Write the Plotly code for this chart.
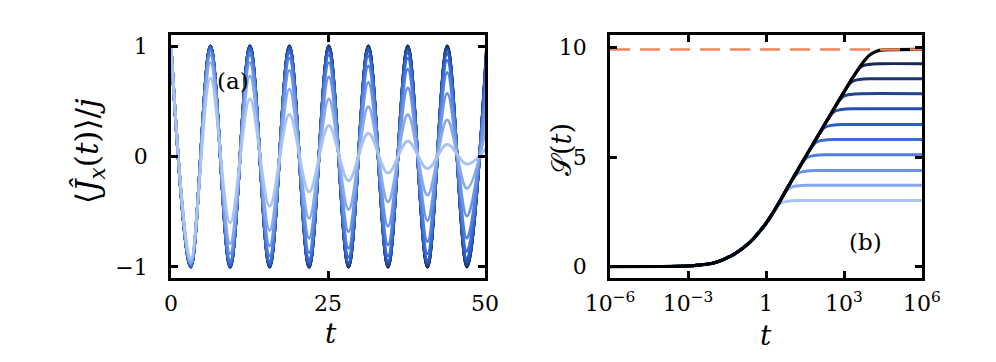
import numpy as np
import plotly.graph_objects as go

W, H = 996, 362

# ---------------- Panel (a) data: extrema of <J_x(t)>/j at t = k*pi ----------------
t_ext = [0.0, 3.14, 6.28, 9.42, 12.57, 15.71, 18.85, 21.99, 25.13, 28.27,
         31.42, 34.56, 37.70, 40.84, 43.98, 47.12, 50.27]

jx_1 = [1.0, -0.93, 0.71, -0.60, 0.52, -0.45, 0.38, -0.32, 0.28, -0.22, 0.21, -0.15, 0.14, -0.11, 0.11, -0.07, 0.08]
jx_2 = [1.0, -0.96, 0.85, -0.79, 0.73, -0.67, 0.61, -0.56, 0.52, -0.48, 0.45, -0.41, 0.38, -0.35, 0.33, -0.29, 0.28]
jx_3 = [1.0, -0.97, 0.92, -0.88, 0.85, -0.81, 0.78, -0.74, 0.72, -0.68, 0.67, -0.63, 0.62, -0.58, 0.57, -0.54, 0.53]
jx_4 = [1.0, -0.98, 0.96, -0.94, 0.92, -0.90, 0.89, -0.87, 0.85, -0.83, 0.82, -0.80, 0.79, -0.77, 0.76, -0.74, 0.73]
jx_5 = [1.0, -0.99, 0.98, -0.97, 0.96, -0.95, 0.94, -0.93, 0.92, -0.91, 0.91, -0.90, 0.89, -0.88, 0.87, -0.86, 0.85]
jx_6 = [1.0, -1.0, 0.99, -0.99, 0.98, -0.98, 0.97, -0.97, 0.96, -0.96, 0.95, -0.95, 0.94, -0.94, 0.93, -0.93, 0.92]
jx_7 = [1.0, -1.0, 1.0, -0.99, 0.99, -0.99, 0.99, -0.98, 0.98, -0.98, 0.98, -0.97, 0.97, -0.97, 0.97, -0.96, 0.96]
jx_8 = [1.0, -1.0, 1.0, -1.0, 1.0, -0.99, 0.99, -0.99, 0.99, -0.99, 0.99, -0.99, 0.99, -0.98, 0.98, -0.98, 0.98]
jx_9 = [1.0, -1.0, 1.0, -1.0, 1.0, -1.0, 1.0, -1.0, 1.0, -0.99, 0.99, -0.99, 0.99, -0.99, 0.99, -0.99, 0.99]
jx_10 = [1.0, -1.0, 1.0, -1.0, 1.0, -1.0, 1.0, -1.0, 1.0, -1.0, 1.0, -1.0, 1.0, -1.0, 1.0, -0.995, 0.995]
jx_11 = [1.0, -1.0, 1.0, -1.0, 1.0, -1.0, 1.0, -1.0, 1.0, -1.0, 1.0, -1.0, 1.0, -1.0, 1.0, -1.0, 1.0]

# ---------------- Panel (b) data: entropy S(t) ----------------
log_t_black = [-6.0, -4.0, -3.0, -2.5, -2.0, -1.75, -1.5, -1.25, -1.0, -0.75, -0.5, -0.25, 0.0,
               0.25, 0.5, 0.75, 1.0, 1.5, 2.0, 2.5, 3.0, 3.25, 3.5, 3.75, 4.0, 4.25, 4.5, 5.0, 6.0]
s_black = [0.0, 0.005, 0.03, 0.08, 0.17, 0.27, 0.40, 0.55, 0.75, 0.98, 1.25, 1.6, 1.98,
           2.42, 2.92, 3.44, 3.96, 4.97, 5.98, 6.98, 7.98, 8.47, 8.93, 9.36, 9.68, 9.84, 9.9, 9.91, 9.92]
plateau_levels = [3.02, 3.72, 4.39, 5.11, 5.81, 6.49, 7.21, 7.90, 8.58, 9.27]
knee_dx = [0.15, 0.3, 0.5, 0.75, 1.0]          # decades after leaving the black curve
knee_ds = [-0.33, -0.14, -0.05, -0.01, 0.0]     # offset below the plateau
s_max = 9.92

x_ticks_b = [1e-6, 1e-3, 1, 1e3, 1e6]
x_ticktext_b = ["10<sup>\u22126</sup>", "10<sup>\u22123</sup>", "1", "10<sup>3</sup>", "10<sup>6</sup>"]

colors = ['#a8c3f1', '#87a9eb', '#6b93e5', '#5080de', '#3b6dd6', '#2d5dc7',
          '#2650ae', '#1f4391', '#1a3573', '#142756', '#000000']

jx_all = [jx_1, jx_2, jx_3, jx_4, jx_5, jx_6, jx_7, jx_8, jx_9, jx_10, jx_11]

fig = go.Figure()

# panel (a): draw black first, lighter on top
for i in reversed(range(len(jx_all))):
    fig.add_trace(go.Scatter(x=t_ext, y=jx_all[i], mode='lines',
                             line=dict(color=colors[i], width=2.9, shape='spline', smoothing=1.0),
                             xaxis='x', yaxis='y', showlegend=False, hoverinfo='skip'))

# panel (b)
lb = np.array(log_t_black)
sb = np.array(s_black)
mono = lb <= 4.5
for i, L in enumerate(plateau_levels):
    ls = float(np.interp(L - 0.6, sb[mono], lb[mono]))
    keep = lb < ls
    xs = list(lb[keep]) + [ls] + [ls + d for d in knee_dx] + [6.0]
    ys = list(sb[keep]) + [L - 0.6] + [L + e for e in knee_ds] + [L]
    fig.add_trace(go.Scatter(x=10 ** np.array(xs), y=ys, mode='lines',
                             line=dict(color=colors[i], width=3, shape='spline', smoothing=0.8),
                             xaxis='x2', yaxis='y2', showlegend=False, hoverinfo='skip'))

fig.add_trace(go.Scatter(x=10 ** lb, y=s_black, mode='lines',
                         line=dict(color='black', width=3.2, shape='spline', smoothing=0.8),
                         xaxis='x2', yaxis='y2', showlegend=False, hoverinfo='skip'))
fig.add_trace(go.Scatter(x=[1e-6, 1e6], y=[s_max, s_max], mode='lines',
                         line=dict(color='#f4845c', width=2.6, dash='20px,10px'),
                         xaxis='x2', yaxis='y2', showlegend=False, hoverinfo='skip'))

FONT = 'DejaVu Serif'
tickfont = dict(family=FONT, size=22, color='black')
axcommon = dict(showgrid=False, zeroline=False, showline=True, linecolor='black', linewidth=2.8,
                mirror='ticks', ticks='inside', ticklen=7, tickwidth=2.8, tickcolor='black',
                tickfont=tickfont)

OFF = 8  # default page body margin in the browser


def px(x):
    return (x - OFF) / W


def py(y):
    return 1 - (y - OFF) / H


def label(text, x, y, size, angle=0):
    return dict(text=text, x=px(x), y=py(y), xref='paper', yref='paper', showarrow=False,
                xanchor='center', yanchor='middle', textangle=angle,
                font=dict(family=FONT, size=size, color='black'))


fig.update_layout(
    width=W, height=H, margin=dict(l=0, r=0, t=0, b=0, autoexpand=False),
    paper_bgcolor='white', plot_bgcolor='white',
    font=dict(family=FONT, size=22, color='black'),
    xaxis=dict(domain=[px(171), px(485)], range=[0, 50], tickvals=[0, 25, 50], anchor='y',
               ticklabelstandoff=4, **axcommon),
    yaxis=dict(domain=[py(278), py(35)], range=[-1.1, 1.1], tickvals=[-1, 0, 1], anchor='x',
               ticklabelstandoff=16, **axcommon),
    xaxis2=dict(domain=[px(610), px(922)], type='log', range=[-6, 6], tickvals=x_ticks_b,
                ticktext=x_ticktext_b, anchor='y2', ticklabelstandoff=4, **axcommon),
    yaxis2=dict(domain=[py(278), py(35)], range=[-0.52, 10.58], tickvals=[0, 5, 10], anchor='x2',
                ticklabelstandoff=16, **axcommon),
    annotations=[
        label('(a)', 233, 81, 23),
        label('(b)', 865, 242, 23),
        label('<i>t</i>', 331, 333, 28),
        label('<i>t</i>', 766, 335, 28),
        label('\u27e8<i>\u0134</i><sub><i>x</i></sub>(<i>t</i>)\u27e9/<i>j</i>', 90, 151, 31, -90),
        label('\U0001D4AE(<i>t</i>)', 561, 150, 27, -90),
    ],
)

fig.write_html('out.html')
